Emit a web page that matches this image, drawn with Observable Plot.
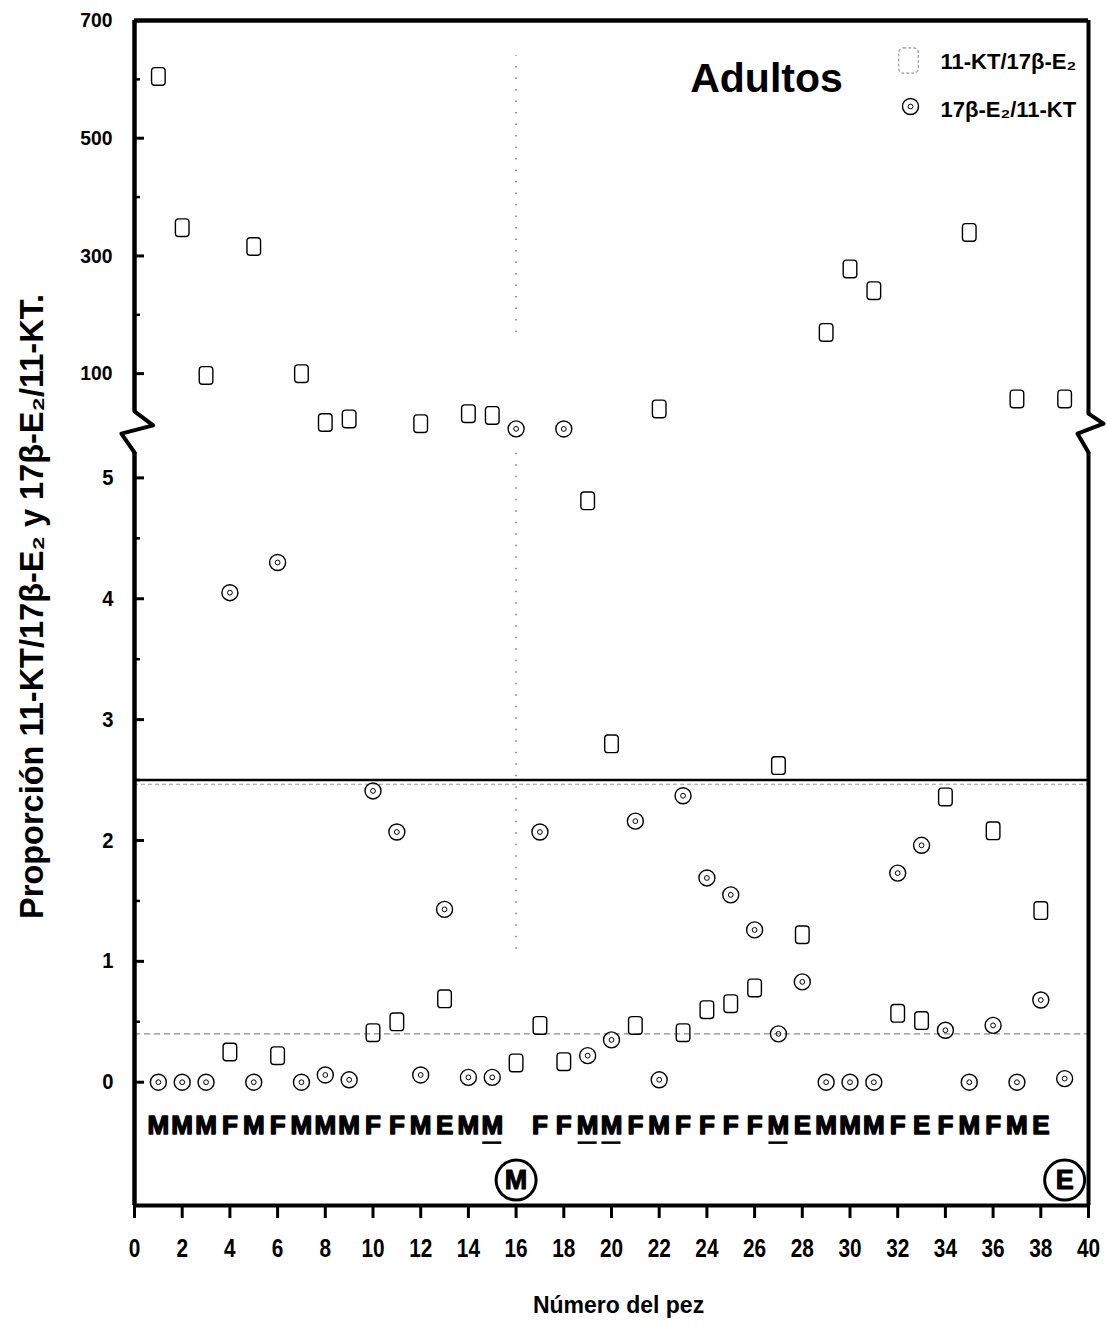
<!DOCTYPE html>
<html>
<head>
<meta charset="utf-8">
<script src="https://cdn.jsdelivr.net/npm/d3@7"></script>
<script src="https://cdn.jsdelivr.net/npm/@observablehq/plot@0.6"></script>
<style>
  body { margin: 0; background: #fff; }
  #chart { position: relative; width: 1107px; height: 1336px; }
  #chart svg { position: absolute; left: 0; top: 0; }
</style>
</head>
<body>
<div id="chart"></div>
<script>
// Fish number (x)
const fish = d3.range(1, 40);

// 11-KT / 17β-E2 ratio per fish
const ratioKT_E2 = [605, 348, 97, 0.25, 316, 0.22, 100, 17, 23, 0.41,
                    0.50, 15, 0.69, 32, 29, 0.16, 0.47, 0.17, 4.81, 2.80,
                    0.47, 40, 0.41, 0.60, 0.65, 0.78, 2.62, 1.22, 170, 278,
                    241, 0.57, 0.51, 2.36, 340, 2.08, 57, 1.42, 57];

// 17β-E2 / 11-KT ratio per fish
const ratioE2_KT = [0, 0, 0, 4.05, 0, 4.30, 0, 0.06, 0.02, 2.41,
                    2.07, 0.06, 1.43, 0.04, 0.04, 6.2, 2.07, 6.0, 0.22, 0.35,
                    2.16, 0.02, 2.37, 1.69, 1.55, 1.26, 0.40, 0.83, 0, 0,
                    0, 1.73, 1.96, 0.43, 0, 0.47, 0, 0.68, 0.03];

// Sex assigned to each fish (M, F, E); fish 16 and 39 are marked separately
const sexLabel = ["M","M","M","F","M","F","M","M","M","F",
                  "F","M","E","M","M","","F","F","M","M",
                  "F","M","F","F","F","F","M","E","M","M",
                  "M","F","E","F","M","F","M","E",""];
const underlinedFish = [15, 19, 20, 27];
const circledFish = [16, 39];
const circledLetter = ["M", "E"];

// Reference levels
const refHigh = 2.5;
const refLow = 0.4;

// Axis ticks
const xTicks = [0, 2, 4, 6, 8, 10, 12, 14, 16, 18, 20, 22, 24, 26, 28, 30, 32, 34, 36, 38, 40];
const lowerTicks = [0, 1, 2, 3, 4, 5];
const lowerMinor = [0.5, 1.5, 2.5, 3.5, 4.5];
const upperTicks = [100, 300, 500, 700];
const upperMinor = [200, 400, 600];

// Values above this go to the upper (broken) segment of the y axis
const breakAt = 5.2;

const yTitle = "Proporción 11-KT/17β-E₂ y 17β-E₂/11-KT.";
const xTitle = "Número del pez";
const chartTitle = "Adultos";
const legendKT = "11-KT/17β-E₂";
const legendE2 = "17β-E₂/11-KT";

// ---- layout ----
const W = 1107, H = 1336;
const M = {marginTop: 20, marginRight: 19, marginBottom: 131, marginLeft: 134};
const xScale = {domain: [0, 40], range: [134, 1088], axis: null};
const sans = "'Liberation Sans', Arial, Helvetica, sans-serif";
const intFmt = d => String(d);

// Rounded, slightly tall box used for the 11-KT/17β-E2 markers
const boxSymbol = {
  draw(ctx, size) {
    const r = Math.sqrt(size / Math.PI);
    const w = r * 0.85, h = r * 1.1, c = r * 0.4;
    ctx.moveTo(-w + c, -h);
    ctx.lineTo(w - c, -h);
    ctx.arcTo(w, -h, w, -h + c, c);
    ctx.lineTo(w, h - c);
    ctx.arcTo(w, h, w - c, h, c);
    ctx.lineTo(-w + c, h);
    ctx.arcTo(-w, h, -w, h - c, c);
    ctx.lineTo(-w, -h + c);
    ctx.arcTo(-w, -h, -w + c, -h, c);
    ctx.closePath();
  }
};

const rows = fish.flatMap((f, i) => [
  {fish: f, value: ratioKT_E2[i], serie: "KT"},
  {fish: f, value: ratioE2_KT[i], serie: "E2"}
]);
const lowRows = rows.filter(d => d.value <= breakAt);
const highRows = rows.filter(d => d.value > breakAt);
const sexRows = fish.map((f, i) => ({fish: f, sex: sexLabel[i]})).filter(d => d.sex);
const circledRows = circledFish.map((f, i) => ({fish: f, letter: circledLetter[i]}));

const markerStyle = {stroke: "black", strokeWidth: 1.4, fill: "none", r: 8};
function seriesMarks(data) {
  return [
    Plot.dot(data.filter(d => d.serie === "KT"), {x: "fish", y: "value", symbol: boxSymbol, ...markerStyle}),
    Plot.dot(data.filter(d => d.serie === "E2"), {x: "fish", y: "value", ...markerStyle}),
    Plot.dot(data.filter(d => d.serie === "E2"), {x: "fish", y: "value", r: 2.4, stroke: "black", strokeWidth: 1, fill: "none"})
  ];
}

// Zig-zag of the axis break (x offsets in fish units, y in upper-segment units)
const breakLeft = [{x: 0, y: 36}, {x: 0.78, y: 12}, {x: -0.55, y: -2}, {x: 0, y: -34}];
const breakRight = [{x: 40, y: 32}, {x: 40.63, y: 15}, {x: 39.54, y: -2}, {x: 40, y: -34}];

// Stretch text about its anchor (heavy condensed lettering)
function condense(svg, label, sx, sy = 1) {
  svg.querySelectorAll(`[aria-label="${label}"] text`).forEach(t => {
    const tr = t.getAttribute("transform") || "";
    t.setAttribute("transform", `${tr} scale(${sx},${sy})`);
  });
}

// ---- lower segment: 0–5, x axis, sex row and titles ----
const lower = Plot.plot({
  width: W, height: H, ...M,
  style: {fontFamily: sans, background: "white", color: "black"},
  x: xScale,
  y: {domain: [-1.02, 5.21], range: [1205, 452], axis: null},
  marks: [
    Plot.ruleY([refHigh], {x1: 0, x2: 40, stroke: "black", strokeWidth: 2.4}),
    Plot.ruleY([refHigh - 0.035], {x1: 0, x2: 40, stroke: "#a0a0a0", strokeWidth: 1, strokeDasharray: "4,3"}),
    Plot.ruleY([refLow], {x1: 0, x2: 40, stroke: "#8c8c8c", strokeWidth: 1.2, strokeDasharray: "6,4"}),
    Plot.ruleX([16], {y1: 1.1, y2: 5.21, stroke: "#666", strokeWidth: 1.3, strokeDasharray: "1.5,10"}),
    Plot.ruleY([-1.02], {x1: 0, x2: 40, stroke: "black", strokeWidth: 4}),
    Plot.ruleX([0], {y1: -1.02, y2: 5.21, stroke: "black", strokeWidth: 4.5}),
    Plot.ruleX([40], {y1: -1.02, y2: 5.21, stroke: "black", strokeWidth: 4}),
    Plot.axisX(xTicks, {anchor: "bottom", tickSize: 13, tickPadding: 20, strokeWidth: 3, tickFormat: intFmt,
      fontSize: 26, fontWeight: "bold", label: null}),
    Plot.axisY(lowerTicks, {anchor: "left", tickSize: 10, dx: 10, tickPadding: 21, strokeWidth: 3, tickFormat: intFmt,
      fontSize: 22, fontWeight: "bold", label: null}),
    Plot.axisY(lowerMinor, {anchor: "left", tickSize: 6, dx: 6, strokeWidth: 2.5, tickFormat: () => "", label: null}),
    ...seriesMarks(lowRows),
    Plot.text(sexRows, {x: "fish", y: -0.36, text: "sex", fontSize: 26, fontWeight: "bold",
      stroke: "black", strokeWidth: 1.4, fill: "black", ariaLabel: "sex"}),
    Plot.ruleY(underlinedFish, {x1: d => d - 0.4, x2: d => d + 0.4, y: -0.5, stroke: "black", strokeWidth: 2.5}),
    Plot.dot(circledRows, {x: "fish", y: -0.81, r: 20, stroke: "black", strokeWidth: 3, fill: "none"}),
    Plot.text(circledRows, {x: "fish", y: -0.81, text: "letter", fontSize: 27, fontWeight: "bold",
      stroke: "black", strokeWidth: 1, fill: "black", ariaLabel: "circled"}),
    Plot.text([yTitle], {text: d => d, frameAnchor: "top-left", dx: -102, dy: 586, rotate: -90,
      textAnchor: "middle", lineAnchor: "middle", fontSize: 32.5, fontWeight: "bold"}),
    Plot.text([xTitle], {text: d => d, frameAnchor: "bottom-left", dx: 484, dy: 100,
      textAnchor: "middle", lineAnchor: "middle", fontSize: 23, fontWeight: "bold", ariaLabel: "x-title"})
  ]
});
condense(lower, "x-axis tick label", 0.8);
condense(lower, "y-axis tick label", 0.92);
condense(lower, "sex", 0.86, 1.28);
condense(lower, "circled", 0.85);
condense(lower, "x-title", 0.9);

// ---- upper segment: 0–700, title and legend ----
const upper = Plot.plot({
  width: W, height: H, ...M,
  style: {fontFamily: sans, background: "transparent", color: "black", pointerEvents: "none"},
  x: xScale,
  y: {domain: [0, 700], range: [432, 20], axis: null},
  marks: [
    Plot.ruleX([16], {y1: 170, y2: 640, stroke: "#666", strokeWidth: 1.3, strokeDasharray: "1.5,10"}),
    Plot.ruleY([700], {x1: 0, x2: 40, stroke: "black", strokeWidth: 4.5}),
    Plot.ruleX([0], {y1: 36, y2: 700, stroke: "black", strokeWidth: 4.5}),
    Plot.ruleX([40], {y1: 32, y2: 700, stroke: "black", strokeWidth: 4}),
    Plot.line(breakLeft, {x: "x", y: "y", stroke: "black", strokeWidth: 4, strokeLinejoin: "round"}),
    Plot.line(breakRight, {x: "x", y: "y", stroke: "black", strokeWidth: 4, strokeLinejoin: "round"}),
    Plot.axisY(upperTicks, {anchor: "left", tickSize: 10, dx: 10, tickPadding: 22, strokeWidth: 3, tickFormat: intFmt,
      fontSize: 21, fontWeight: "bold", label: null}),
    Plot.axisY(upperMinor, {anchor: "left", tickSize: 6, dx: 6, strokeWidth: 2.5, tickFormat: () => "", label: null}),
    ...seriesMarks(highRows),
    Plot.text([chartTitle], {text: d => d, frameAnchor: "top-left", dx: 632, dy: 58,
      textAnchor: "middle", lineAnchor: "middle", fontSize: 41, fontWeight: "bold"}),
    Plot.dot([legendKT], {frameAnchor: "top-left", dx: 774, dy: 40, symbol: boxSymbol, r: 11.5,
      stroke: "#9a9a9a", strokeWidth: 1.2, strokeDasharray: "3,2", fill: "none"}),
    Plot.text([legendKT], {text: d => d, frameAnchor: "top-left", dx: 806, dy: 41, textAnchor: "start",
      lineAnchor: "middle", fontSize: 22, fontWeight: "bold", ariaLabel: "legend"}),
    Plot.dot([legendE2], {frameAnchor: "top-left", dx: 776, dy: 86, r: 8, stroke: "black", strokeWidth: 1.4, fill: "none"}),
    Plot.dot([legendE2], {frameAnchor: "top-left", dx: 776, dy: 86, r: 2.4, stroke: "black", strokeWidth: 1, fill: "none"}),
    Plot.text([legendE2], {text: d => d, frameAnchor: "top-left", dx: 806, dy: 89, textAnchor: "start",
      lineAnchor: "middle", fontSize: 22, fontWeight: "bold", ariaLabel: "legend"})
  ]
});
condense(upper, "y-axis tick label", 0.92);
condense(upper, "legend", 0.92);

const chart = document.getElementById("chart");
chart.append(lower, upper);
</script>
</body>
</html>
